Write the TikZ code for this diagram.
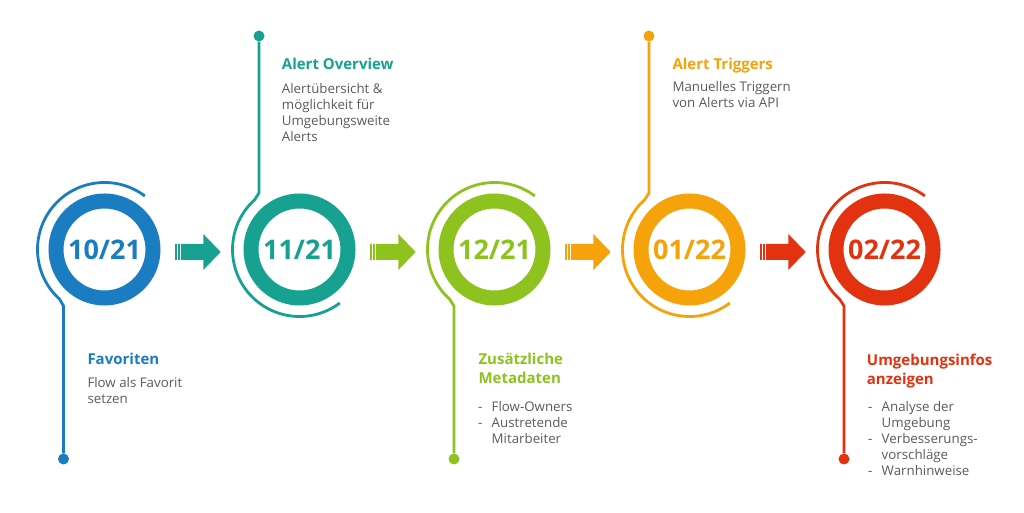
\documentclass[tikz,border=0pt]{standalone}
\usepackage{fontspec}
\setmainfont{Open Sans}
\usetikzlibrary{calc,positioning}
\definecolor{blau}{HTML}{1B7DC1}
\definecolor{tuerkis}{HTML}{17A190}
\definecolor{gruen}{HTML}{8DC21F}
\definecolor{orangeton}{HTML}{F6A20A}
\definecolor{rot}{HTML}{E2320F}
\definecolor{grau}{HTML}{5B5B5B}
\newcommand{\strich}{\makebox[13.5pt][l]{-}}
\tikzset{
  ring/.style={circle,draw=#1,text=#1,line width=15pt,minimum size=97pt,inner sep=0pt,
    font=\fontsize{27}{27}\selectfont\bfseries},
  bogen/.style={draw=#1,line width=2.8pt},
  punkt/.style={circle,fill=#1,minimum size=11pt,inner sep=0pt},
  titel/.style={anchor=north west,inner sep=0pt,text=#1,align=left,
    font=\fontsize{15}{19}\selectfont\bfseries},
  info/.style={anchor=north west,inner sep=0pt,text=grau,align=left,
    font=\fontsize{13.3}{16}\selectfont},
  pfeil/.pic={
    \fill (0,8) -- (28.3,8) -- (28.3,18) -- (45.7,0) -- (28.3,-18) -- (28.3,-8) -- (0,-8) -- cycle;
    \draw[white,line width=0.8pt] (2.6,8.5) -- (2.6,-8.5) (5.2,8.5) -- (5.2,-8.5);
  },
}

\begin{document}
\begin{tikzpicture}[x=1pt,y=1pt]
  \fill[white] (0,0) rectangle (1024,513);
  \useasboundingbox (0,0) rectangle (1024,513);
  % Meilensteine
  \node[ring=blau] (k1) at (104.5,263.5) {10/21};
  \node[ring=tuerkis] (k2) at (299.5,263.5) {11/21};
  \node[ring=gruen] (k3) at (494.5,263.5) {12/21};
  \node[ring=orangeton] (k4) at (689.5,263.5) {01/22};
  \node[ring=rot] (k5) at (884.5,263.5) {02/22};
  % Endpunkte
  \node[punkt=blau] (d1) at (63.5,54) {};
  \node[punkt=tuerkis] (d2) at (259,477) {};
  \node[punkt=gruen] (d3) at (454,54) {};
  \node[punkt=orangeton] (d4) at (649,477) {};
  \node[punkt=rot] (d5) at (844,54) {};
  % Boegen mit Linie
  \draw[bogen=blau] ($(k1)+(53:67)$) arc[start angle=53,end angle=228,radius=67]
    -- ($(d1)+(0,153)$) -- (d1);
  \draw[bogen=tuerkis] ($(k2)+(-53:67)$) arc[start angle=-53,end angle=-228,radius=67]
    -- ($(d2)+(0,-157)$) -- (d2);
  \draw[bogen=gruen] ($(k3)+(53:67)$) arc[start angle=53,end angle=228,radius=67]
    -- ($(d3)+(0,153)$) -- (d3);
  \draw[bogen=orangeton] ($(k4)+(-53:67)$) arc[start angle=-53,end angle=-228,radius=67]
    -- ($(d4)+(0,-157)$) -- (d4);
  \draw[bogen=rot] ($(k5)+(53:67)$) arc[start angle=53,end angle=228,radius=67]
    -- ($(d5)+(0,153)$) -- (d5);
  % Pfeile
  \pic[tuerkis] at ($(k1)!0.5!(k2)+(-27,-2.5)$) {pfeil};
  \pic[gruen] at ($(k2)!0.5!(k3)+(-27,-2.5)$) {pfeil};
  \pic[orangeton] at ($(k3)!0.5!(k4)+(-27,-2.5)$) {pfeil};
  \pic[rot] at ($(k4)!0.5!(k5)+(-27,-2.5)$) {pfeil};
  % Texte
  \node[titel=blau] (t1) at (87.3,160.3) {Favoriten};
  \node[info] (b1) at (87.3,136.3) {Flow als Favorit\\setzen};
  \node[titel=tuerkis] (t2) at (281.7,454.7) {Alert Overview};
  \node[info] (b2) at (281.7,429.7) {Alertübersicht \&\\möglichkeit für\\Umgebungsweite\\Alerts};
  \node[titel=gruen] (t3) at (478.3,160.3) {Zusätzliche\\Metadaten};
  \node[info] (b3) at (478,112) {\strich Flow-Owners\\\strich Austretende\\\hspace*{13.5pt}Mitarbeiter};
  \node[titel=orangeton] (t4) at (672.3,454.7) {Alert Triggers};
  \node[info] (b4) at (672.3,432) {Manuelles Triggern\\von Alerts via API};
  \node[titel=rot] (t5) at (866.7,159) {Umgebungsinfos\\anzeigen};
  \node[info] (b5) at (868,112) {\strich Analyse der\\\hspace*{13.5pt}Umgebung\\\strich Verbesserungs-\\\hspace*{13.5pt}vorschläge\\\strich Warnhinweise};
\end{tikzpicture}
\end{document}
